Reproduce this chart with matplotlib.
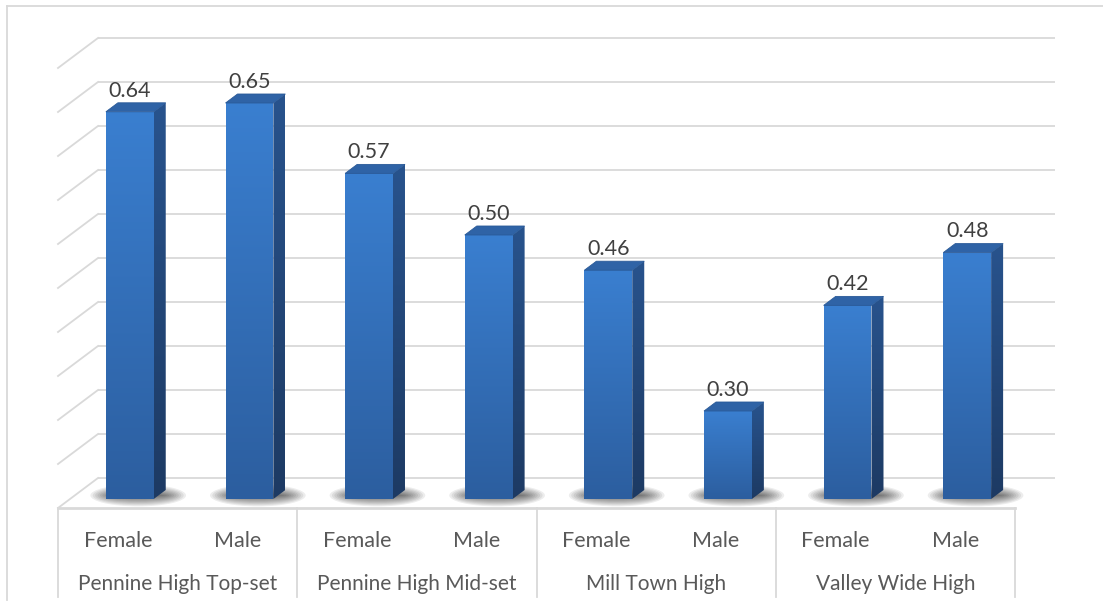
import numpy as np
import matplotlib
matplotlib.use("Agg")
import matplotlib.pyplot as plt
from matplotlib.patches import Polygon, Ellipse
from matplotlib.colors import LinearSegmentedColormap
from matplotlib.lines import Line2D

# ---- data -------------------------------------------------------------
groups = ["Pennine High Top-set", "Pennine High Mid-set", "Mill Town High", "Valley Wide High"]
genders = ["Female", "Male"]
values = [0.64, 0.65, 0.57, 0.50, 0.46, 0.30, 0.42, 0.48]
value_labels = ["0.64", "0.65", "0.57", "0.50", "0.46", "0.30", "0.42", "0.48"]

axis_min, axis_max, axis_step = 0.2, 0.7, 0.05

# ---- oblique 3-D layout -------------------------------------------------
W, H = 1103, 613
slot_px = 119.625          # pixels per category slot
val_px = 880.0             # pixels per value unit
DX = 40 / slot_px          # x shift for full depth (category units)
DY = 30 / val_px           # y shift for full depth (value units)
d_front, d_back = 0.3, 0.6 # depth span of each column
bar_w = 0.40

def P(x, v, d):
    return (x + d * DX, v + d * DY)

plt.rcParams["font.family"] = ["Lato", "DejaVu Sans"]
fig = plt.figure(figsize=(W / 100, H / 100), dpi=100)
ax = fig.add_axes([0, 0, 1, 1])
ax.axis("off")

grid_c = "#d9d9d9"
levels = np.arange(axis_min, axis_max + 1e-9, axis_step)
n = len(values)

# back-wall and side-wall gridlines
for lv in levels:
    x0, y0 = P(0, lv, 1)
    x1, y1 = P(n, lv, 1)
    ax.plot([x0, x1], [y0, y1], color=grid_c, lw=1.3, zorder=1, solid_capstyle="butt")
    fx, fy = P(0, lv, 0)
    ax.plot([fx, x0], [fy, y0], color=grid_c, lw=1.3, zorder=1)

# floor front edge
fx0, fy0 = P(0, axis_min, 0)
fx1, fy1 = P(n, axis_min, 0)
ax.plot([fx0, fx1], [fy0, fy1], color=grid_c, lw=2.0, zorder=1)

front_cmap = LinearSegmentedColormap.from_list("front", ["#2c5e9f", "#3a7fd0"])
side_cmap = LinearSegmentedColormap.from_list("side", ["#1d3a63", "#28538d"])
grad = np.linspace(0, 1, 256).reshape(-1, 1)

for i, v in enumerate(values):
    c = i + 0.5
    xl, xr = c - bar_w / 2, c + bar_w / 2

    # soft floor shadow, darker close to the column base
    sx, sy = P(c + 0.03, axis_min, 0.42)
    for k in range(10):
        s = 1 - k / 10
        ax.add_patch(Ellipse((sx, sy), width=(bar_w + 0.40 * s), height=22 / val_px * s,
                             facecolor="black", alpha=0.07, lw=0, zorder=2))

    # front face
    fa = P(xl, axis_min, d_front)
    fb = P(xr, v, d_front)
    front_poly = Polygon([fa, (fb[0], fa[1]), fb, (fa[0], fb[1])], closed=True,
                         facecolor="none", edgecolor="none", zorder=3)
    ax.add_patch(front_poly)
    im = ax.imshow(grad, cmap=front_cmap, origin="lower", aspect="auto",
                   extent=[fa[0], fb[0], fa[1], fb[1]], zorder=3, interpolation="bilinear")
    im.set_clip_path(front_poly)

    # side face
    side_pts = [P(xr, axis_min, d_front), P(xr, axis_min, d_back),
                P(xr, v, d_back), P(xr, v, d_front)]
    side_poly = Polygon(side_pts, closed=True, facecolor="none", edgecolor="none", zorder=3)
    ax.add_patch(side_poly)
    xs = [p[0] for p in side_pts]
    ys = [p[1] for p in side_pts]
    im2 = ax.imshow(grad, cmap=side_cmap, origin="lower", aspect="auto",
                    extent=[min(xs), max(xs), min(ys), max(ys)], zorder=3,
                    interpolation="bilinear")
    im2.set_clip_path(side_poly)

    # top face
    top_pts = [P(xl, v, d_front), P(xr, v, d_front), P(xr, v, d_back), P(xl, v, d_back)]
    ax.add_patch(Polygon(top_pts, closed=True, facecolor="#2f63a6", edgecolor="#2a5a98",
                         lw=0.6, zorder=4))

    # value label
    lx, ly = P(c, v, d_front)
    _, ly_back = P(c, v, d_back)
    ax.annotate(value_labels[i], xy=(lx, ly_back), xytext=(0, 4.5), textcoords="offset points",
                ha="center", va="baseline", fontsize=15.5, color="#404040", zorder=6)

# category axis: gender row, group row and separators
gender_y = axis_min - 39 / val_px
group_y = axis_min - 82 / val_px
sep_bottom = axis_min - 89 / val_px
for i in range(n):
    ax.text(i + 0.5, gender_y, genders[i % 2], ha="center", va="baseline",
            fontsize=15.5, color="#595959")
for g, name in enumerate(groups):
    ax.text(2 * g + 1, group_y, name, ha="center", va="baseline",
            fontsize=15, color="#595959")
for g in range(len(groups) + 1):
    ax.plot([2 * g, 2 * g], [axis_min, sep_bottom], color=grid_c, lw=1.3, zorder=1)

ax.set_xlim(-58 / slot_px, (W - 58) / slot_px)
ax.set_ylim(axis_min - (H - 508) / val_px, axis_min + 508 / val_px)

# chart area border (top and left edges)
fig.add_artist(Line2D([7 / W, 1.0], [1 - 6 / H, 1 - 6 / H], transform=fig.transFigure,
                      color=grid_c, lw=1.3))
fig.add_artist(Line2D([7 / W, 7 / W], [1 - 6 / H, 1 - 600 / H], transform=fig.transFigure,
                      color=grid_c, lw=1.3))

fig.savefig("out.png", dpi=100, facecolor="white")
